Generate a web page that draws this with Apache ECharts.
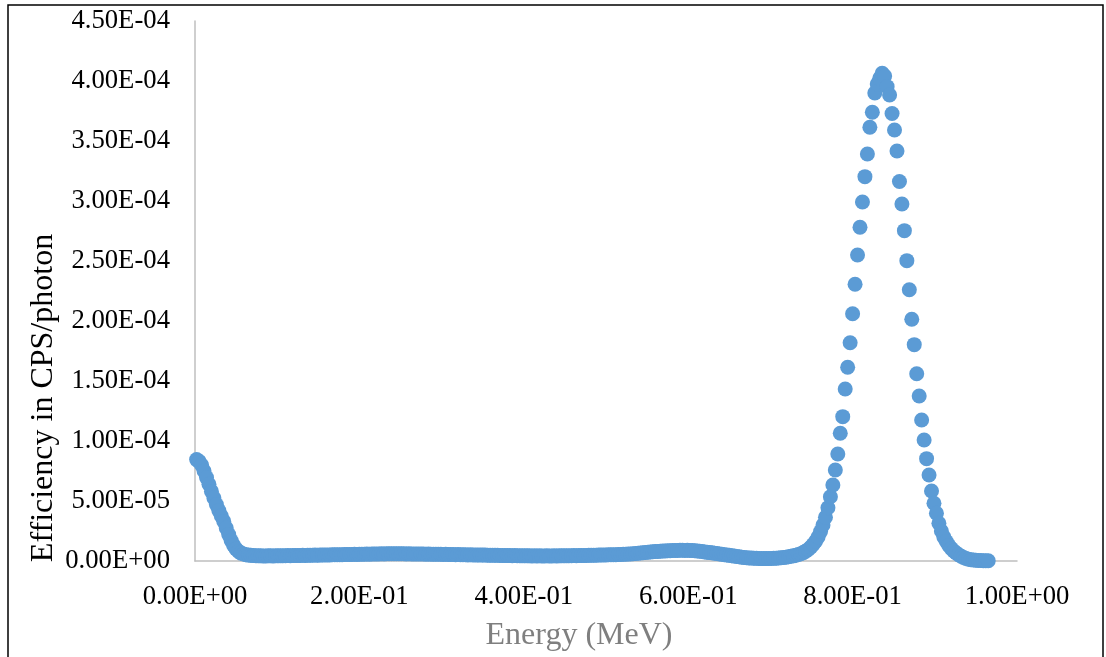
<!DOCTYPE html>
<html>
<head>
<meta charset="utf-8">
<script src="https://cdn.jsdelivr.net/npm/echarts@6/dist/echarts.min.js"></script>
<style>
  html, body { margin: 0; padding: 0; background: #ffffff; }
  #chart { width: 1106px; height: 657px; }
</style>
</head>
<body>
<div id="chart"></div>
<script>
// Energy bin centres (MeV): first centre and bin width
const firstBinEnergy = 0.002;
const binWidth = 0.003;

// Detector efficiency per bin, in units of 1e-6 CPS/photon
const effUnit = 1e-6;

// bins 0-19: low-energy tail
const lowEnergyTail = [
  84.5, 83.0, 80.0, 75.0, 69.5, 64.0, 58.0, 52.5, 47.0, 42.0,
  37.5, 33.0, 27.5, 22.0, 17.0, 13.0, 10.0, 8.0, 6.6, 5.8
];

// bins 20-241: continuum
const continuum = [
  5.2, 4.9, 4.7, 4.5, 4.4, 4.3, 4.3, 4.2, 4.2, 4.3,
  4.3, 4.2, 4.3, 4.4, 4.3, 4.4, 4.4, 4.5, 4.4, 4.5,
  4.6, 4.5, 4.6, 4.7, 4.6, 4.7, 4.8, 4.8, 4.9, 4.8,
  4.9, 5.0, 5.0, 5.1, 5.1, 5.2, 5.2, 5.3, 5.2, 5.3,
  5.4, 5.4, 5.5, 5.5, 5.6, 5.5, 5.6, 5.7, 5.7, 5.8,
  5.7, 5.8, 5.9, 5.8, 5.9, 6.0, 5.9, 6.0, 6.0, 6.1,
  6.0, 6.1, 6.0, 6.0, 6.1, 5.9, 6.0, 5.9, 5.9, 5.8,
  5.9, 5.8, 5.8, 5.7, 5.8, 5.7, 5.7, 5.6, 5.7, 5.6,
  5.5, 5.6, 5.5, 5.4, 5.4, 5.3, 5.4, 5.3, 5.2, 5.2,
  5.1, 5.2, 5.1, 5.0, 5.0, 4.9, 5.0, 4.9, 4.8, 4.8,
  4.7, 4.8, 4.7, 4.6, 4.6, 4.5, 4.6, 4.5, 4.4, 4.5,
  4.4, 4.4, 4.3, 4.4, 4.3, 4.3, 4.2, 4.3, 4.2, 4.3,
  4.2, 4.2, 4.3, 4.2, 4.2, 4.3, 4.2, 4.3, 4.3, 4.4,
  4.3, 4.4, 4.4, 4.5, 4.4, 4.5, 4.5, 4.6, 4.6, 4.7,
  4.7, 4.8, 4.8, 4.9, 5.0, 5.0, 5.1, 5.2, 5.2, 5.3,
  5.3, 5.4, 5.5, 5.6, 5.7, 5.8, 5.9, 6.1, 6.3, 6.5,
  6.7, 6.9, 7.1, 7.3, 7.5, 7.7, 7.9, 8.0, 8.2, 8.3,
  8.4, 8.5, 8.6, 8.7, 8.8, 8.8, 8.9, 8.9, 8.8, 8.9,
  8.8, 8.7, 8.6, 8.4, 8.2, 7.9, 7.6, 7.3, 7.0, 6.8,
  6.5, 6.2, 5.9, 5.6, 5.3, 5.0, 4.7, 4.4, 4.1, 3.8,
  3.5, 3.2, 3.0, 2.8, 2.6, 2.4, 2.3, 2.2, 2.1, 2.0,
  2.0, 2.0, 2.1, 2.1, 2.2, 2.3, 2.5, 2.7, 2.9, 3.2, 3.5, 3.9
];

// bins 242-321: full-energy photopeak
const photopeak = [
  4.3, 4.8, 5.4, 6.1, 7.0, 8.2, 9.6, 11.4, 13.7, 16.5,
  20.0, 24.5, 30.0, 36.5, 44.4, 53.6, 63.3, 75.8, 89.2, 106.4,
  120.3, 143.3, 161.4, 181.9, 206.1, 230.6, 255.0, 278.1, 299.2, 320.3,
  339.2, 361.4, 373.9, 390.0, 397.5, 402.2, 406.4, 404.2, 395.3, 388.3,
  372.9, 359.2, 341.7, 316.3, 297.5, 275.3, 250.3, 226.1, 201.4, 180.3,
  156.1, 137.5, 117.5, 100.8, 85.3, 71.7, 58.3, 48.1, 39.8, 31.4,
  25.0, 20.0, 16.2, 12.9, 10.4, 8.3, 6.7, 5.2, 3.9, 2.9,
  2.1, 1.5, 1.1, 0.8, 0.6, 0.5, 0.4, 0.3, 0.3, 0.2
];

const xTickLabels = ['0.00E+00', '2.00E-01', '4.00E-01', '6.00E-01', '8.00E-01', '1.00E+00'];
const yTickLabels = ['0.00E+00', '5.00E-05', '1.00E-04', '1.50E-04', '2.00E-04',
                     '2.50E-04', '3.00E-04', '3.50E-04', '4.00E-04', '4.50E-04'];

const xTitle = 'Energy (MeV)';
const yTitle = 'Efficiency in CPS/photon';

const efficiency = lowEnergyTail.concat(continuum, photopeak);
const points = efficiency.map((v, i) => [firstBinEnergy + i * binWidth, v * effUnit]);

const X_STEP = 0.2;
const Y_STEP = 5e-5;
const serif = '"Liberation Serif", "Times New Roman", serif';

const chart = echarts.init(document.getElementById('chart'), null, { renderer: 'canvas' });
chart.setOption({
  animation: false,
  backgroundColor: '#ffffff',
  grid: { left: 195, right: 89, top: 21, bottom: 96, containLabel: false },
  xAxis: {
    type: 'value',
    min: 0, max: 1, interval: X_STEP,
    axisLine: { show: true, lineStyle: { color: '#bfbfbf', width: 1.5 } },
    axisTick: { show: false },
    splitLine: { show: false },
    axisLabel: {
      color: '#000000', fontFamily: serif, fontSize: 26.7, margin: 22,
      formatter: v => xTickLabels[Math.round(v / X_STEP)]
    }
  },
  yAxis: {
    type: 'value',
    min: 0, max: 4.5e-4, interval: Y_STEP,
    axisLine: { show: true, lineStyle: { color: '#bfbfbf', width: 1.5 } },
    axisTick: { show: false },
    splitLine: { show: false },
    axisLabel: {
      color: '#000000', fontFamily: serif, fontSize: 26.7, margin: 25,
      formatter: v => yTickLabels[Math.round(v / Y_STEP)]
    }
  },
  series: [{
    type: 'scatter',
    data: points,
    symbol: 'circle',
    symbolSize: 15,
    itemStyle: { color: '#5b9bd5', opacity: 1 },
    silent: true
  }],
  graphic: [
    {
      type: 'rect',
      shape: { x: 8, y: 5, width: 1095, height: 700 },
      style: { fill: 'none', stroke: '#000000', lineWidth: 1.5 },
      silent: true
    },
    {
      type: 'text',
      x: 579, y: 636,
      style: {
        text: xTitle, fill: '#7f7f7f', font: '32px ' + serif,
        textAlign: 'center', textVerticalAlign: 'middle'
      },
      silent: true
    },
    {
      type: 'text',
      x: 44, y: 398,
      rotation: Math.PI / 2,
      style: {
        text: yTitle, fill: '#000000', font: '32px ' + serif,
        textAlign: 'center', textVerticalAlign: 'middle'
      },
      silent: true
    }
  ]
});
</script>
</body>
</html>
